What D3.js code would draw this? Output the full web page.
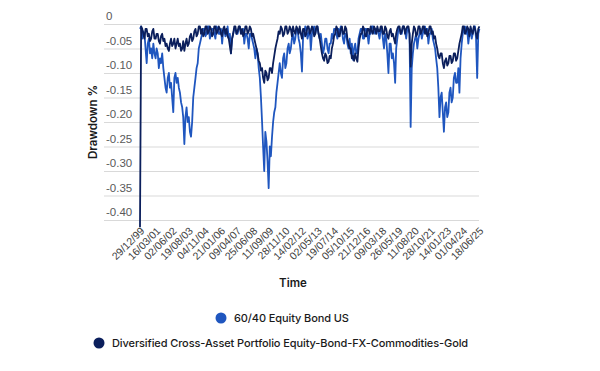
<!DOCTYPE html>
<html>
<head>
<meta charset="utf-8">
<script src="https://cdn.jsdelivr.net/npm/d3@7"></script>
<style>
  body { margin: 0; background: #fff; }
  svg { display: block; }
</style>
</head>
<body>
<div id="chart"></div>
<script>
// Série 60/40 (drawdown), un point par mois depuis le 29/12/1999
const equityBond = [
  -0.01, -0.005, -0.03, -0.015, -0.02, -0.05, -0.08, -0.04, -0.03, -0.06,
  -0.05, -0.07, -0.04, -0.06, -0.07, -0.05, -0.06, -0.09, -0.07, -0.08,
  -0.06, -0.09, -0.11, -0.13, -0.14, -0.11, -0.10, -0.13, -0.12, -0.15,
  -0.18, -0.11, -0.10, -0.12, -0.11, -0.13, -0.14, -0.16, -0.17, -0.19,
  -0.245, -0.19, -0.17, -0.20, -0.19, -0.22, -0.23, -0.20, -0.15, -0.13,
  -0.11, -0.09, -0.08, -0.05, -0.04, -0.03, -0.02, -0.01, -0.01, -0.025,
  -0.02, -0.005, -0.005, -0.03, -0.02, -0.01, -0.01, -0.02, -0.03, -0.005,
  -0.01, -0.02, -0.02, -0.01, -0.04, -0.015, -0.01, -0.025, -0.02, -0.005,
  -0.03, -0.02, -0.06, -0.03, -0.02, -0.01, -0.01, -0.02, -0.02, -0.01,
  -0.005, -0.015, -0.02, -0.01, -0.04, -0.02, -0.02, -0.03, -0.05, -0.02,
  -0.02, -0.03, -0.04, -0.05, -0.07, -0.05, -0.06, -0.09, -0.11, -0.15,
  -0.20, -0.25, -0.30, -0.22, -0.24, -0.28, -0.335, -0.25, -0.27, -0.23,
  -0.20, -0.18, -0.17, -0.14, -0.12, -0.10, -0.08, -0.10, -0.11, -0.07,
  -0.06, -0.09, -0.08, -0.05, -0.04, -0.06, -0.05, -0.03, -0.02, -0.04,
  -0.03, -0.01, -0.01, -0.03, -0.04, -0.06, -0.097, -0.03, -0.02, -0.005,
  -0.01, -0.03, -0.02, -0.01, -0.053, -0.02, -0.01, -0.005, -0.02, -0.01,
  -0.005, -0.02, -0.03, -0.02, -0.04, -0.06, -0.05, -0.03, -0.03, -0.05,
  -0.06, -0.04, -0.04, -0.02, -0.03, -0.01, -0.01, -0.02, -0.03, -0.01,
  -0.02, -0.005, -0.01, -0.03, -0.04, -0.02, -0.02, -0.04, -0.05, -0.03,
  -0.06, -0.04, -0.073, -0.05, -0.04, -0.06, -0.06, -0.03, -0.02, -0.01,
  -0.01, -0.03, -0.03, -0.01, -0.01, -0.02, -0.04, -0.02, -0.02, -0.005,
  -0.005, -0.015, -0.02, -0.01, -0.01, -0.02, -0.03, -0.01, -0.01, -0.03,
  -0.05, -0.02, -0.03, -0.06, -0.10, -0.04, -0.04, -0.07, -0.06, -0.08,
  -0.12, -0.05, -0.03, -0.01, -0.01, -0.02, -0.02, -0.005, -0.005, -0.015,
  -0.03, -0.01, -0.01, -0.02, -0.21, -0.09, -0.06, -0.04, -0.03, -0.02,
  -0.05, -0.03, -0.02, -0.01, -0.03, -0.02, -0.01, -0.005, -0.02, -0.01,
  -0.04, -0.02, -0.02, -0.01, -0.03, -0.04, -0.05, -0.07, -0.09, -0.13,
  -0.19, -0.15, -0.14, -0.18, -0.22, -0.17, -0.16, -0.19, -0.18, -0.14,
  -0.13, -0.16, -0.15, -0.11, -0.10, -0.12, -0.12, -0.09, -0.14, -0.07,
  -0.04, -0.02, -0.01, -0.005, -0.02, -0.01, -0.04, -0.02, -0.01, -0.03,
  -0.02, -0.005, -0.005, -0.03, -0.11, -0.02, -0.01
];

// Série diversifiée cross-asset (drawdown), même pas mensuel
const diversified = [
  -0.415, -0.005, -0.01, -0.02, -0.03, -0.01, -0.01, -0.025, -0.02, -0.035,
  -0.03, -0.015, -0.01, -0.03, -0.03, -0.02, -0.02, -0.035, -0.04, -0.025,
  -0.02, -0.035, -0.03, -0.045, -0.04, -0.05, -0.055, -0.04, -0.03, -0.045,
  -0.04, -0.03, -0.05, -0.04, -0.03, -0.045, -0.04, -0.055, -0.05, -0.035,
  -0.055, -0.04, -0.03, -0.045, -0.04, -0.025, -0.02, -0.035, -0.03, -0.015,
  -0.01, -0.025, -0.02, -0.005, -0.005, -0.02, -0.01, -0.025, -0.02, -0.005,
  -0.005, -0.02, -0.015, -0.005, -0.01, -0.025, -0.02, -0.005, -0.005, -0.02,
  -0.015, -0.005, -0.01, -0.02, -0.025, -0.01, -0.005, -0.02, -0.01, -0.025,
  -0.03, -0.045, -0.06, -0.03, -0.02, -0.005, -0.005, -0.02, -0.015, -0.005,
  -0.005, -0.02, -0.01, -0.025, -0.02, -0.005, -0.005, -0.02, -0.015, -0.005,
  -0.01, -0.025, -0.02, -0.03, -0.04, -0.05, -0.06, -0.075, -0.08, -0.095,
  -0.09, -0.11, -0.12, -0.095, -0.10, -0.115, -0.11, -0.09, -0.09, -0.10,
  -0.08, -0.065, -0.05, -0.04, -0.03, -0.015, -0.02, -0.005, -0.01, -0.025,
  -0.02, -0.005, -0.005, -0.02, -0.015, -0.005, -0.01, -0.025, -0.005, -0.015,
  -0.02, -0.005, -0.01, -0.02, -0.005, -0.02, -0.03, -0.01, -0.01, -0.025,
  -0.02, -0.005, -0.005, -0.02, -0.015, -0.005, -0.01, -0.025, -0.02, -0.005,
  -0.005, -0.02, -0.03, -0.045, -0.06, -0.07, -0.075, -0.06, -0.065, -0.08,
  -0.077, -0.065, -0.07, -0.05, -0.04, -0.025, -0.02, -0.005, -0.01, -0.025,
  -0.025, -0.01, -0.005, -0.02, -0.02, -0.005, -0.01, -0.03, -0.04, -0.05,
  -0.05, -0.07, -0.065, -0.075, -0.06, -0.07, -0.077, -0.05, -0.03, -0.02,
  -0.02, -0.005, -0.01, -0.025, -0.025, -0.01, -0.01, -0.02, -0.005, -0.015,
  -0.02, -0.005, -0.01, -0.02, -0.005, -0.015, -0.015, -0.005, -0.005, -0.02,
  -0.02, -0.005, -0.01, -0.025, -0.03, -0.015, -0.01, -0.025, -0.02, -0.03,
  -0.04, -0.02, -0.01, -0.005, -0.005, -0.02, -0.015, -0.005, -0.005, -0.02,
  -0.01, -0.005, -0.005, -0.02, -0.087, -0.04, -0.02, -0.005, -0.01, -0.025,
  -0.02, -0.005, -0.005, -0.02, -0.015, -0.005, -0.005, -0.02, -0.01, -0.025,
  -0.02, -0.005, -0.005, -0.02, -0.015, -0.03, -0.025, -0.04, -0.05, -0.065,
  -0.07, -0.06, -0.06, -0.08, -0.09, -0.075, -0.07, -0.085, -0.08, -0.065,
  -0.065, -0.08, -0.075, -0.06, -0.06, -0.075, -0.07, -0.055, -0.04, -0.03,
  -0.02, -0.005, -0.005, -0.02, -0.015, -0.005, -0.01, -0.025, -0.005, -0.015,
  -0.02, -0.005, -0.01, -0.02, -0.03, -0.01, -0.005
];

// Libellés de l'axe du temps
const tickLabels = [
  "29/12/99", "16/03/01", "02/06/02", "19/08/03", "04/11/04", "21/01/06",
  "09/04/07", "25/06/08", "11/09/09", "28/11/10", "14/02/12", "02/05/13",
  "19/07/14", "05/10/15", "21/12/16", "09/03/18", "26/05/19", "11/08/20",
  "28/10/21", "14/01/23", "01/04/24", "18/06/25"
];

const yTicks = [0, -0.05, -0.10, -0.15, -0.20, -0.25, -0.30, -0.35, -0.40];

const seriesNames = ["60/40 Equity Bond US", "Diversified Cross-Asset Portfolio Equity-Bond-FX-Commodities-Gold"];
const colors = ["#1f56bf", "#0b1f5c"];

// Dimensions
const svgWidth = 600;
const svgHeight = 371;
const plot = { left: 140, right: 479, top: 24, bottom: 220 };
const labelLeft = 106;

const svg = d3.select('#chart')
  .append('svg')
  .attr('width', svgWidth)
  .attr('height', svgHeight);

const parseDate = d3.timeParse("%d/%m/%y");
const startDate = parseDate(tickLabels[0]);
const dates = equityBond.map((d, i) => d3.timeMonth.offset(startDate, i));

const x = d3.scaleTime()
  .domain([startDate, parseDate(tickLabels[tickLabels.length - 1])])
  .range([plot.left, plot.right]);

const y = d3.scaleLinear()
  .domain([0, -0.40])
  .range([plot.top, plot.bottom]);

// Grille + libellés Y (au-dessus des lignes)
const yAxis = svg.append('g')
  .attr('transform', `translate(${plot.right},0)`)
  .call(d3.axisLeft(y)
    .tickValues(yTicks)
    .tickSize(plot.right - labelLeft + 2)
    .tickFormat(d => d === 0 ? "0" : d3.format(".2f")(d).replace("−", "-")));

yAxis.select('.domain').remove();
yAxis.selectAll('.tick line')
  .attr('stroke', '#d9d9d9')
  .attr('stroke-width', 1);
yAxis.selectAll('.tick text')
  .attr('x', -(plot.right - labelLeft))
  .attr('dy', '-0.35em')
  .attr('text-anchor', 'start')
  .attr('fill', '#595959')
  .style('font-family', 'Liberation Sans, Arial, sans-serif')
  .style('font-size', '11.5px');

// Axe X
const xAxis = svg.append('g')
  .attr('transform', `translate(0,${plot.bottom})`)
  .call(d3.axisBottom(x)
    .tickValues(tickLabels.map(parseDate))
    .tickSize(0)
    .tickFormat(d3.timeFormat("%d/%m/%y")));

xAxis.select('.domain').remove();
xAxis.selectAll('text')
  .attr('text-anchor', 'end')
  .attr('transform', 'translate(2,9) rotate(-45)')
  .attr('y', 0)
  .attr('dy', '0.35em')
  .attr('fill', '#404040')
  .style('font-family', 'Liberation Sans, Arial, sans-serif')
  .style('font-size', '10.5px');

// Lignes (la série diversifiée par-dessus)
const line = d3.line()
  .x((d, i) => x(dates[i]))
  .y(d => y(d));

[equityBond, diversified].forEach((serie, k) => {
  svg.append('path')
    .datum(serie)
    .attr('d', line)
    .attr('fill', 'none')
    .attr('stroke', colors[k])
    .attr('stroke-width', 1.8)
    .attr('stroke-linejoin', 'round');
});

// Titres des axes
svg.append('text')
  .attr('x', 293)
  .attr('y', 287)
  .attr('text-anchor', 'middle')
  .attr('fill', '#1a1a1a')
  .style('font-family', 'Inter, sans-serif')
  .style('font-weight', '600')
  .style('font-size', '11.5px')
  .text('Time');

svg.append('text')
  .attr('transform', 'translate(97,122) rotate(-90)')
  .attr('text-anchor', 'middle')
  .attr('fill', '#1a1a1a')
  .style('font-family', 'Inter, sans-serif')
  .style('font-weight', '600')
  .style('font-size', '11.5px')
  .text('Drawdown %');

// Légende
const legendPos = [{ cx: 221, cy: 318 }, { cx: 99, cy: 343 }];
seriesNames.forEach((name, k) => {
  svg.append('circle')
    .attr('cx', legendPos[k].cx)
    .attr('cy', legendPos[k].cy)
    .attr('r', 5.5)
    .attr('fill', colors[k]);
  svg.append('text')
    .attr('x', legendPos[k].cx + 13)
    .attr('y', legendPos[k].cy)
    .attr('dy', '0.35em')
    .attr('fill', '#1a1a1a')
    .style('font-family', 'Inter, sans-serif')
    .style('font-weight', '500')
    .style('font-size', '11px')
    .style('letter-spacing', '-0.1px')
    .text(name);
});
</script>
</body>
</html>
